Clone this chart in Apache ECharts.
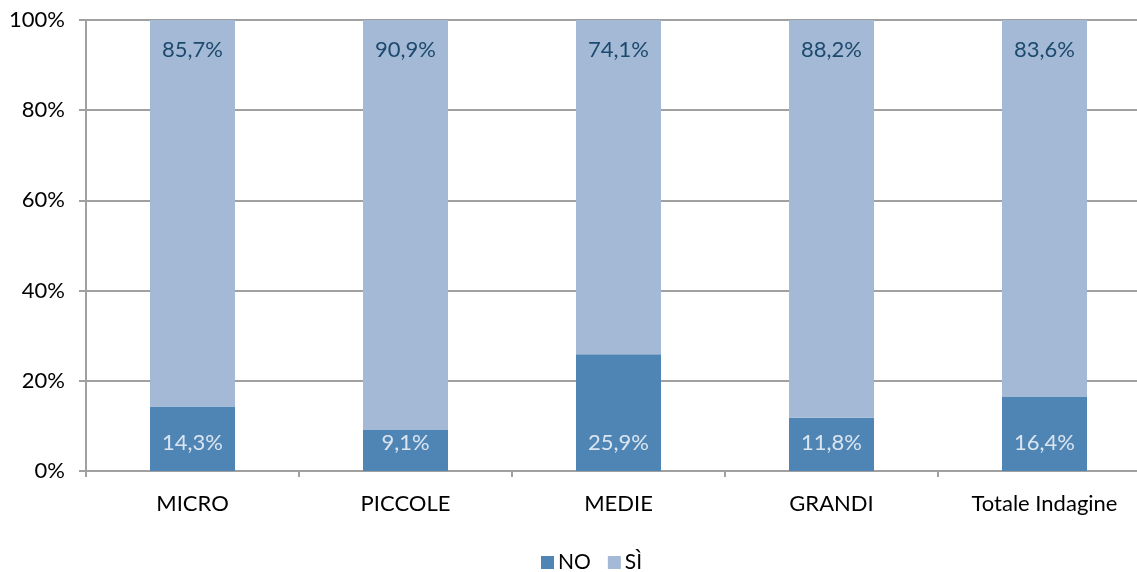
<!DOCTYPE html>
<html>
<head>
<meta charset="utf-8">
<script src="https://cdn.jsdelivr.net/npm/echarts@6/dist/echarts.min.js"></script>
<style>
  html, body { margin: 0; padding: 0; background: #fff; overflow: hidden; }
  /* the plot area runs slightly past the right edge of the window */
  #chart { width: 1151px; height: 572px; }
</style>
</head>
<body>
<div id="chart"></div>
<script>
// Categories and shares (percent) per answer
const categories = ['MICRO', 'PICCOLE', 'MEDIE', 'GRANDI', 'Totale Indagine'];
const seriesNames = ['NO', 'SÌ'];
const valuesNo = [14.3, 9.1, 25.9, 11.8, 16.4];
const valuesSi = [85.7, 90.9, 74.1, 88.2, 83.6];
const yTicks = [0, 20, 40, 60, 80, 100];

const fontFamily = 'Lato, "Open Sans", "Noto Sans", sans-serif';
const fmt = v => v.toFixed(1).replace('.', ',') + '%';

const chart = echarts.init(document.getElementById('chart'), null, { renderer: 'canvas' });

chart.setOption({
  animation: false,
  textStyle: { fontFamily },
  grid: { left: 86, top: 20, right: 0, bottom: 101, containLabel: false },
  legend: {
    top: 552,
    left: 541,
    padding: 0,
    itemWidth: 13,
    itemHeight: 13,
    itemGap: 17,
    icon: 'rect',
    textStyle: { fontSize: 21, color: '#000', fontFamily, padding: [0, 0, 0, -1] },
    data: seriesNames
  },
  xAxis: {
    type: 'category',
    data: categories,
    axisLine: { lineStyle: { color: '#a0a0a0', width: 2 } },
    axisTick: { show: true, length: 6, lineStyle: { color: '#a0a0a0', width: 2 } },
    axisLabel: { fontSize: 22, color: '#000', margin: 22, fontFamily }
  },
  yAxis: {
    type: 'value',
    min: yTicks[0],
    max: yTicks[yTicks.length - 1],
    interval: 20,
    axisLine: { show: true, lineStyle: { color: '#a0a0a0', width: 2 } },
    axisTick: { show: true, length: 7, lineStyle: { color: '#a0a0a0', width: 2 } },
    splitLine: { lineStyle: { color: '#a0a0a0', width: 2 } },
    axisLabel: { fontSize: 22, color: '#000', margin: 21, formatter: v => v + '%', fontFamily }
  },
  series: [
    {
      name: seriesNames[0],
      type: 'bar',
      stack: 'tot',
      barWidth: 85,
      data: valuesNo,
      itemStyle: { color: '#4f85b5' },
      label: {
        show: true,
        position: 'insideBottom',
        distance: 17,
        fontSize: 22,
        color: '#dbe5f0',
        fontFamily,
        formatter: p => fmt(p.value)
      }
    },
    {
      name: seriesNames[1],
      type: 'bar',
      stack: 'tot',
      barWidth: 85,
      data: valuesSi,
      itemStyle: { color: '#a4b9d5' },
      label: {
        show: true,
        position: 'insideTop',
        distance: 19,
        fontSize: 22,
        color: '#1c4a6e',
        fontFamily,
        formatter: p => fmt(p.value)
      }
    }
  ]
});
</script>
</body>
</html>
